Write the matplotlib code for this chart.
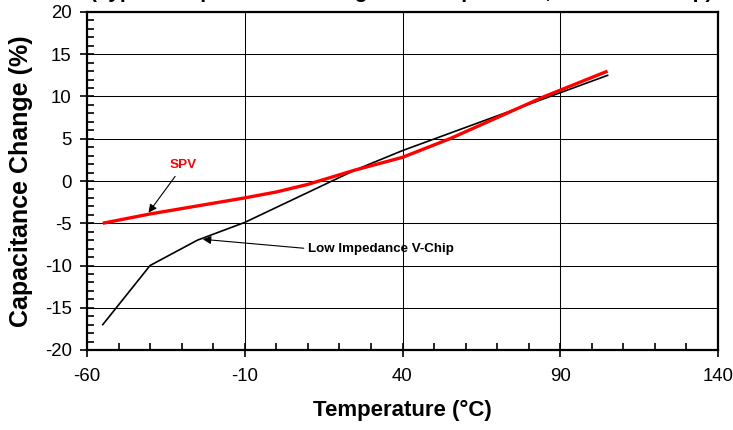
import matplotlib
matplotlib.use("Agg")
import matplotlib.pyplot as plt
from matplotlib.ticker import MultipleLocator, FixedLocator

plt.rcParams['font.family'] = ['Liberation Sans', 'DejaVu Sans']
plt.rcParams['axes.unicode_minus'] = False

# Data
spv_temp = [-55, -40, -25, -10, 0, 10, 25, 40, 55, 70, 85, 105]
spv_change = [-5.0, -3.9, -2.95, -2.0, -1.3, -0.4, 1.3, 2.8, 5.0, 7.5, 10.0, 13.0]

vchip_temp = [-55, -40, -25, -10, 25, 40, 105]
vchip_change = [-17.0, -10.0, -7.0, -4.9, 1.3, 3.6, 12.5]

x_ticks = [-60, -10, 40, 90, 140]
y_ticks = [-20, -15, -10, -5, 0, 5, 10, 15, 20]

title_text = "(Typical Capacitance Change vs. Temperature, SPV vs. V-Chip)"
spv_label = "SPV"
vchip_label = "Low Impedance V-Chip"

fig = plt.figure(figsize=(7.33, 4.30), dpi=100)
ax = fig.add_axes([87/733, 1-350/430, (718-87)/733, (350-12)/430])

ax.plot(vchip_temp, vchip_change, color='black', lw=1.2, zorder=3)
ax.plot(spv_temp, spv_change, color='#ff0000', lw=2.4, zorder=4,
        solid_capstyle='butt')

ax.set_xlim(-60, 140)
ax.set_ylim(-20, 20)
ax.xaxis.set_major_locator(FixedLocator(x_ticks))
ax.xaxis.set_minor_locator(MultipleLocator(10))
ax.yaxis.set_major_locator(FixedLocator(y_ticks))
ax.yaxis.set_minor_locator(MultipleLocator(1))

ax.grid(True, which='major', color='black', lw=0.75, zorder=1)
ax.set_axisbelow(True)

for s in ax.spines.values():
    s.set_linewidth(1.6)

ax.tick_params(which='major', direction='inout', length=10, width=1.2,
               labelsize=13.4, pad=6)
ax.tick_params(which='minor', direction='in', length=5, width=1.2)
ax.tick_params(axis='x', which='major', pad=8)

ax.set_xlabel("Temperature (°C)", fontsize=16, fontweight='bold')
ax.set_ylabel("Capacitance Change (%)", fontsize=18, fontweight='bold')
ax.xaxis.set_label_coords(0.5, -0.148)
ax.yaxis.set_label_coords(-0.085, 0.5)

ax.annotate(spv_label, xy=(-40.5, -3.75), xytext=(-29.5, 1.85),
            color='#ff0000', fontsize=9.7, fontweight='bold',
            ha='center', va='center',
            arrowprops=dict(arrowstyle='-|>', color='black', lw=0.8,
                            mutation_scale=12, shrinkA=2, shrinkB=0))
ax.annotate(vchip_label, xy=(-23.3, -6.9), xytext=(10.0, -8.0),
            color='black', fontsize=9.6, fontweight='bold',
            ha='left', va='center',
            arrowprops=dict(arrowstyle='-|>', color='black', lw=0.8,
                            mutation_scale=12, shrinkA=1, shrinkB=0,
                            relpos=(0, 0.5)))

fig.text(0.548, 1.0 + 2.5/430, title_text, fontsize=15, fontweight='bold',
         ha='center', va='baseline')

fig.savefig("out.png", dpi=100)
